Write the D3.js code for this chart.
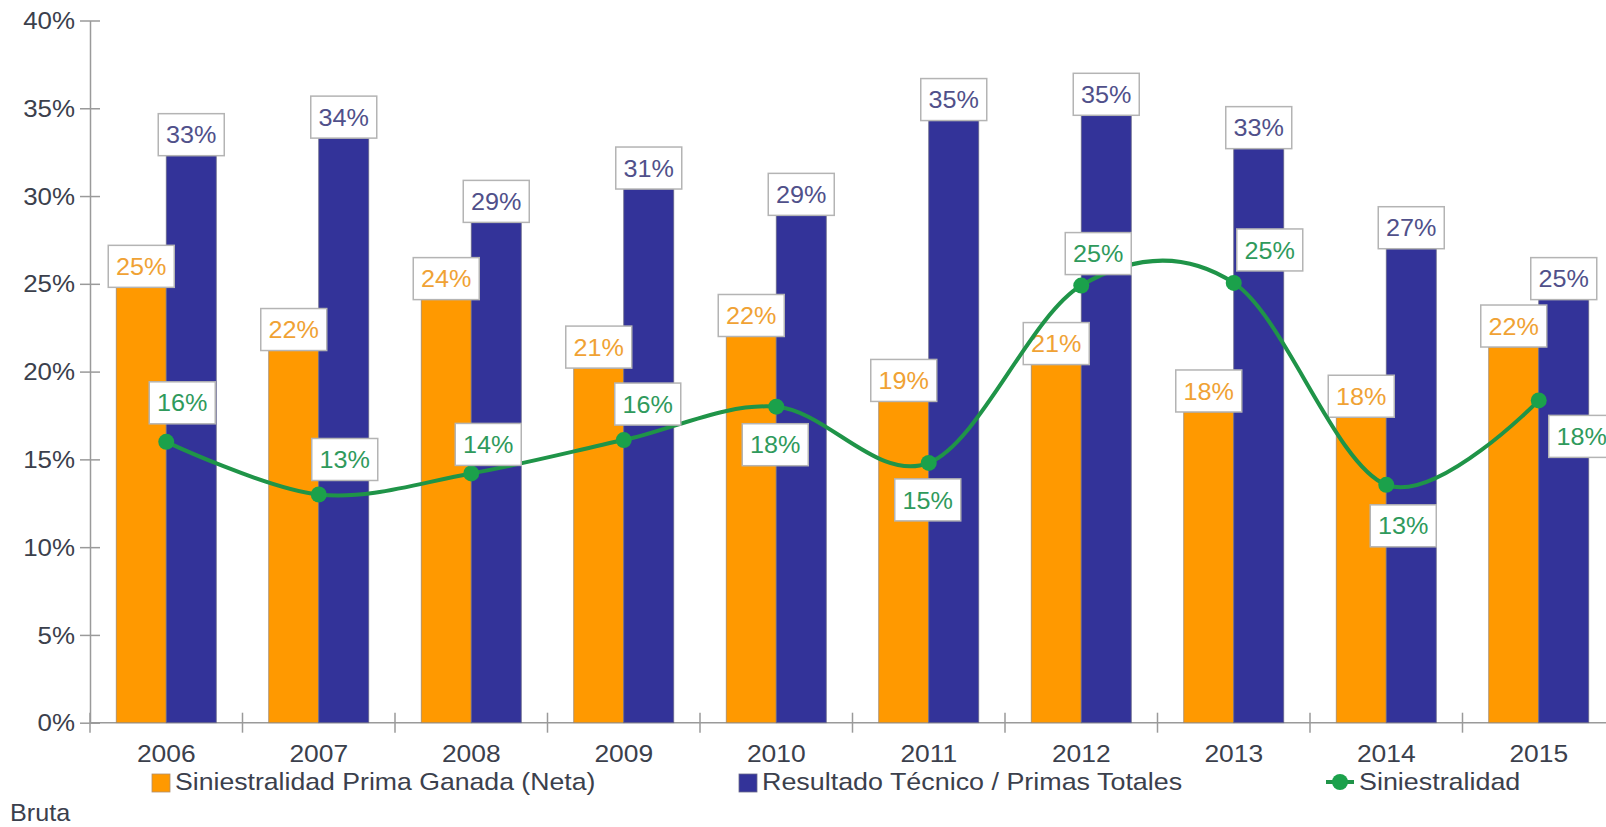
<!DOCTYPE html>
<html>
<head>
<meta charset="utf-8">
<script src="https://cdn.jsdelivr.net/npm/d3@7/dist/d3.min.js"></script>
<style>
  html, body { margin: 0; padding: 0; background: #fff; }
  svg { display: block; font-family: "Liberation Sans", Arial, sans-serif; }
</style>
</head>
<body>
<svg id="chart" width="1606" height="827"></svg>
<script>
// ---------- data ----------
const years = ["2006","2007","2008","2009","2010","2011","2012","2013","2014","2015"];
const primaGanada = [24.8, 21.2, 24.1, 20.2, 22.0, 18.3, 20.4, 17.7, 17.4, 21.4];
const resultadoTecnico = [32.3, 33.3, 28.5, 30.4, 28.9, 34.3, 34.6, 32.7, 27.0, 24.1];
const siniestralidad = [16.0, 13.0, 14.2, 16.1, 18.0, 14.8, 24.9, 25.05, 13.55, 18.36];
const primaGanadaLabels = ["25%","22%","24%","21%","22%","19%","21%","18%","18%","22%"];
const resultadoLabels = ["33%","34%","29%","31%","29%","35%","35%","33%","27%","25%"];
const siniestralidadLabels = ["16%","13%","14%","16%","18%","15%","25%","25%","13%","18%"];
const yTicks = [0, 5, 10, 15, 20, 25, 30, 35, 40];
const legendNames = ["Siniestralidad Prima Ganada (Neta)", "Resultado Técnico / Primas Totales", "Siniestralidad"];
const legendWrap = "Bruta";

// ---------- layout / style ----------
const W = 1606, H = 827;
const plot = { left: 90, right: 1615, top: 20.5, bottom: 722.7 };
const colOrange = "#FF9900", colBlue = "#333399", colGreen = "#1f9448", colMarker = "#1ba14b";
const axisCol = "#9a9a9a", textCol = "#3b404c";
const fontSize = 24;
// offsets of the line value labels (box centre relative to the point)
const lineLabelOffsets = [[16,-39],[26,-35],[17,-29],[24,-36],[-1,38],[-1,37],[17,-32],[36,-33],[17,41],[43,36]];

const svg = d3.select("#chart");

// text helper with horizontal stretch (reference glyphs are wider than Liberation Sans)
function addText(g, x, y, str, opt) {
  opt = opt || {};
  return g.append("text")
    .attr("transform", `translate(${x},${y}) scale(${opt.sx || 1},1)`)
    .attr("text-anchor", opt.anchor || "start")
    .attr("dy", opt.dy || null)
    .attr("fill", opt.color || textCol)
    .style("font-size", (opt.size || fontSize) + "px")
    .text(str);
}

const x = d3.scaleBand().domain(years).range([plot.left, plot.right]).paddingInner(0).paddingOuter(0);
const bw = x.bandwidth();
const x1 = d3.scaleBand().domain(["o","b"]).range([bw/2 - 50, bw/2 + 50]);
const y = d3.scaleLinear().domain([0, 40]).range([plot.bottom, plot.top]);

// ---------- axes ----------
const yAxis = d3.axisLeft(y).tickValues(yTicks).tickFormat(d => d + "%").tickSizeOuter(0);
const gy = svg.append("g").attr("transform", `translate(${plot.left},0)`).call(yAxis);
gy.select(".domain").attr("stroke", axisCol).attr("stroke-width", 1.5);
gy.selectAll(".tick line").attr("x1", -10).attr("x2", 10).attr("stroke", axisCol).attr("stroke-width", 1.5);
gy.selectAll(".tick text").remove();
yTicks.forEach(t => addText(svg, plot.left - 15, y(t), t + "%", { anchor: "end", dy: "0.36em", sx: 1.08 }));

// x axis baseline
svg.append("line").attr("x1", plot.left).attr("x2", W).attr("y1", y(0)).attr("y2", y(0))
  .attr("stroke", axisCol).attr("stroke-width", 1.5);
// boundary ticks
svg.selectAll(".xb").data(years).enter().append("line")
  .attr("x1", d => x(d)).attr("x2", d => x(d))
  .attr("y1", y(0) - 10).attr("y2", y(0) + 10)
  .attr("stroke", axisCol).attr("stroke-width", 1.5);
// x labels
years.forEach(d => addText(svg, x(d) + bw/2, 762, d, { anchor: "middle", sx: 1.1 }));

// ---------- bars ----------
const gBars = svg.append("g");
gBars.selectAll(".bo").data(primaGanada).enter().append("rect")
  .attr("x", (d,i) => x(years[i]) + x1("o")).attr("width", x1.bandwidth())
  .attr("y", d => y(d)).attr("height", d => y(0) - y(d))
  .attr("fill", colOrange).attr("stroke", "#a08a70").attr("stroke-width", 0.8);
gBars.selectAll(".bb").data(resultadoTecnico).enter().append("rect")
  .attr("x", (d,i) => x(years[i]) + x1("b")).attr("width", x1.bandwidth())
  .attr("y", d => y(d)).attr("height", d => y(0) - y(d))
  .attr("fill", colBlue).attr("stroke", "#6a6a8a").attr("stroke-width", 0.8);

// label box helper
const boxW = 66, boxH = 42;
function labelBox(g, cx, cy, txt, color) {
  g.append("rect").attr("x", cx - boxW/2).attr("y", cy - boxH/2)
    .attr("width", boxW).attr("height", boxH)
    .attr("fill", "#fff").attr("stroke", "#b4b4b4").attr("stroke-width", 1.5);
  addText(g, cx, cy, txt, { anchor: "middle", dy: "0.36em", color: color, sx: 1.05 });
}

const gBarLabels = svg.append("g");
primaGanada.forEach((v, i) => {
  labelBox(gBarLabels, x(years[i]) + x1("o") + x1.bandwidth()/2, y(v) - boxH/2, primaGanadaLabels[i], "#f0a234");
});
resultadoTecnico.forEach((v, i) => {
  labelBox(gBarLabels, x(years[i]) + x1("b") + x1.bandwidth()/2, y(v) - boxH/2, resultadoLabels[i], "#50508a");
});

// ---------- line ----------
const line = d3.line()
  .x((d,i) => x(years[i]) + bw/2)
  .y(d => y(d))
  .curve(d3.curveCardinal.tension(0));
svg.append("path").datum(siniestralidad).attr("d", line)
  .attr("fill", "none").attr("stroke", colGreen).attr("stroke-width", 4);
svg.selectAll(".pt").data(siniestralidad).enter().append("circle")
  .attr("cx", (d,i) => x(years[i]) + bw/2).attr("cy", d => y(d)).attr("r", 8)
  .attr("fill", colMarker);

const gLineLabels = svg.append("g");
siniestralidad.forEach((v, i) => {
  const cx = x(years[i]) + bw/2 + lineLabelOffsets[i][0];
  const cy = y(v) + lineLabelOffsets[i][1];
  labelBox(gLineLabels, cx, cy, siniestralidadLabels[i], "#2f9a5c");
});

// ---------- legend ----------
const lg = svg.append("g");
lg.append("rect").attr("x", 152).attr("y", 774).attr("width", 18).attr("height", 18)
  .attr("fill", colOrange).attr("stroke", "#b09070").attr("stroke-width", 0.8);
addText(lg, 175, 790, legendNames[0], { sx: 1.11 });
lg.append("rect").attr("x", 739).attr("y", 774).attr("width", 18).attr("height", 18)
  .attr("fill", colBlue).attr("stroke", "#6a6a8a").attr("stroke-width", 0.8);
addText(lg, 762, 790, legendNames[1], { sx: 1.12 });
lg.append("line").attr("x1", 1326).attr("x2", 1354).attr("y1", 782).attr("y2", 782)
  .attr("stroke", colGreen).attr("stroke-width", 4);
lg.append("circle").attr("cx", 1340).attr("cy", 782).attr("r", 8).attr("fill", colMarker);
addText(lg, 1359, 790, legendNames[2], { sx: 1.12 });
addText(lg, 10, 821, legendWrap, { sx: 1.05 });
</script>
</body>
</html>
